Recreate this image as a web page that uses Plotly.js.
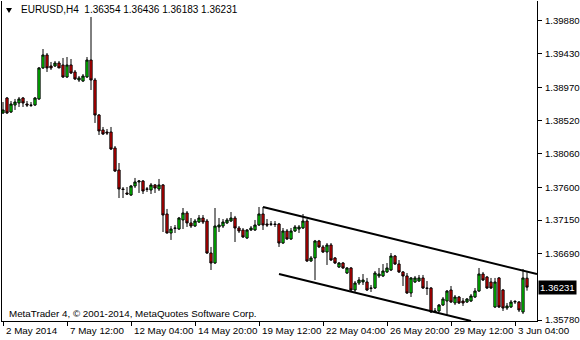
<!DOCTYPE html>
<html><head><meta charset="utf-8">
<script src="https://cdn.plot.ly/plotly-3.0.1.min.js"></script>
<style>html,body{margin:0;padding:0;background:#fff;}#chart{width:580px;height:340px;}</style>
</head><body><div id="chart"></div>
<script>
const symbolTitle = 'EURUSD,H4';
const lastOHLC = ['1.36354', '1.36436', '1.36183', '1.36231'];
const lastPrice = 1.36231;
const copyrightText = 'MetaTrader 4, \u00a9 2001-2014, MetaQuotes Software Corp.';

const openP = [1.38619,1.38824,1.38632,1.38728,1.38756,1.38824,1.38742,1.38728,1.38728,1.38811,
1.39236,1.39414,1.39263,1.39263,1.39304,1.39277,1.39112,1.39277,1.39181,1.39071,
1.39057,1.39112,1.39345,1.39071,1.38591,1.38386,1.38358,1.38358,1.38139,1.37837,
1.37577,1.37522,1.37494,1.37618,1.37673,1.37686,1.37577,1.37563,1.37632,1.37577,
1.37632,1.37234,1.36973,1.37042,1.37028,1.37152,1.37248,1.37111,1.37069,1.37124,
1.37179,1.37138,1.36699,1.36562,1.37056,1.37069,1.37111,1.37138,1.37179,1.37042,
1.37015,1.36905,1.37015,1.37015,1.37083,1.37234,1.37097,1.37097,1.37097,1.37097,
1.36836,1.37001,1.36891,1.37001,1.37028,1.37042,1.37138,1.36590,1.36631,1.36864,
1.36782,1.36713,1.36809,1.36631,1.36507,1.36562,1.36425,1.36494,1.36192,1.36288,
1.36302,1.36302,1.36219,1.36219,1.36384,1.36384,1.36439,1.36466,1.36658,1.36548,
1.36439,1.36384,1.36151,1.36302,1.36315,1.36357,1.36219,1.36219,1.35890,1.35904,
1.35986,1.36041,1.36192,1.36014,1.36096,1.36041,1.36027,1.36041,1.36096,1.36178,
1.36411,1.36370,1.36302,1.35959,1.36357,1.36192,1.35945,1.35959,1.36027,1.36027,
1.35890,1.36354];

const highP = [1.38769,1.38838,1.38783,1.38811,1.38838,1.38838,1.38783,1.38769,1.38838,1.39249,
1.39496,1.39441,1.39318,1.39332,1.39332,1.39373,1.39386,1.39359,1.39208,1.39126,
1.39153,1.39386,1.39935,1.39099,1.38605,1.38427,1.38399,1.38427,1.38166,1.37933,
1.37604,1.37604,1.37632,1.37728,1.37700,1.37700,1.37604,1.37659,1.37645,1.37714,
1.37645,1.37303,1.37069,1.37083,1.37193,1.37316,1.37275,1.37179,1.37165,1.37220,
1.37220,1.37165,1.36782,1.37316,1.37179,1.37165,1.37179,1.37261,1.37207,1.37069,
1.37042,1.37028,1.37069,1.37152,1.37330,1.37330,1.37165,1.37138,1.37138,1.37111,
1.37042,1.37028,1.37042,1.37083,1.37083,1.37234,1.37165,1.36658,1.36878,1.36878,
1.36809,1.36836,1.36836,1.36644,1.36576,1.36576,1.36507,1.36507,1.36315,1.36370,
1.36411,1.36357,1.36261,1.36452,1.36494,1.36548,1.36562,1.36699,1.36672,1.36603,
1.36452,1.36425,1.36370,1.36384,1.36398,1.36398,1.36315,1.36233,1.35945,1.36000,
1.36096,1.36192,1.36247,1.36123,1.36110,1.36082,1.36082,1.36137,1.36219,1.36494,
1.36439,1.36384,1.36357,1.36357,1.36370,1.36206,1.36014,1.36055,1.36055,1.36041,
1.36480,1.36436];

const lowP = [1.38605,1.38605,1.38619,1.38660,1.38701,1.38701,1.38701,1.38701,1.38715,1.38797,
1.39222,1.39181,1.39208,1.39249,1.39236,1.39099,1.39099,1.39153,1.39071,1.39044,
1.39044,1.39099,1.38934,1.38482,1.38317,1.38317,1.38317,1.38111,1.37810,1.37453,
1.37453,1.37494,1.37481,1.37590,1.37522,1.37508,1.37536,1.37508,1.37522,1.37549,
1.36987,1.36966,1.36878,1.36973,1.37015,1.37028,1.37056,1.37042,1.37056,1.37111,
1.37097,1.36686,1.36466,1.36548,1.36987,1.37042,1.37097,1.37124,1.36850,1.36973,
1.36905,1.36891,1.37001,1.37001,1.37069,1.37015,1.37056,1.37069,1.37056,1.36782,
1.36823,1.36878,1.36878,1.36987,1.36973,1.37028,1.36576,1.36576,1.36329,1.36768,
1.36699,1.36535,1.36590,1.36548,1.36494,1.36480,1.36411,1.36178,1.36165,1.36261,
1.36261,1.36178,1.36165,1.36206,1.36357,1.36370,1.36425,1.36452,1.36535,1.36425,
1.36247,1.36137,1.36096,1.36288,1.36302,1.36206,1.36123,1.35877,1.35877,1.35890,
1.35973,1.35849,1.36014,1.35986,1.36000,1.35973,1.36014,1.36027,1.36082,1.36165,
1.36315,1.36206,1.36206,1.35945,1.35945,1.35904,1.35918,1.35945,1.36000,1.35890,
1.35863,1.36183];

const closeP = [1.38660,1.38619,1.38742,1.38769,1.38811,1.38756,1.38728,1.38724,1.38824,1.39236,
1.39414,1.39236,1.39236,1.39304,1.39236,1.39112,1.39277,1.39167,1.39085,1.39099,
1.39126,1.39345,1.39071,1.38591,1.38372,1.38331,1.38344,1.38125,1.37823,1.37577,
1.37570,1.37508,1.37618,1.37673,1.37686,1.37549,1.37574,1.37632,1.37590,1.37632,
1.37220,1.36973,1.37028,1.37038,1.37179,1.37248,1.37111,1.37069,1.37138,1.37179,
1.37124,1.36699,1.36562,1.37069,1.37083,1.37124,1.37152,1.37179,1.37042,1.37001,
1.36919,1.37015,1.37042,1.37083,1.37234,1.37083,1.37083,1.37093,1.37090,1.36836,
1.37001,1.36891,1.37001,1.37056,1.37056,1.37138,1.36590,1.36631,1.36864,1.36782,
1.36713,1.36809,1.36603,1.36562,1.36562,1.36494,1.36494,1.36192,1.36288,1.36329,
1.36329,1.36192,1.36215,1.36425,1.36411,1.36452,1.36494,1.36658,1.36548,1.36439,
1.36384,1.36151,1.36357,1.36357,1.36357,1.36219,1.36215,1.35890,1.35904,1.35986,
1.36069,1.36178,1.36027,1.36096,1.36014,1.36014,1.36069,1.36110,1.36178,1.36411,
1.36329,1.36219,1.36219,1.36302,1.35959,1.35945,1.35973,1.36027,1.36034,1.35918,
1.36357,1.36231];

// x-axis tick labels (bar index of each label, H4 bars from 2 May 2014 20:00)
const xTickIdx = [0, 16, 32, 48, 64, 80, 96, 112, 128];
const xTickText = ['2 May 2014', '7 May 12:00', '12 May 04:00', '14 May 20:00', '19 May 12:00',
                   '22 May 04:00', '26 May 20:00', '29 May 12:00', '3 Jun 04:00'];
// price axis ticks
const yTickVals = [1.39880, 1.39430, 1.38970, 1.38520, 1.38060, 1.37600, 1.37150, 1.36690, 1.35780];

// trend channel lines (bar index, price)
const channelUpperX = [65, 133.5];
const channelUpperY = [1.37330, 1.36411];
const channelLowerX = [69, 117];
const channelLowerY = [1.36411, 1.35767];

const barIdx = closeP.map((_, i) => i);
const FONT = '"Liberation Sans", Arial, sans-serif';

const traces = [
  {
    type: 'candlestick', x: barIdx, open: openP, high: highP, low: lowP, close: closeP,
    increasing: {line: {color: '#000000', width: 1}, fillcolor: '#00f000'},
    decreasing: {line: {color: '#000000', width: 1}, fillcolor: '#ee0000'},
    whiskerwidth: 0, hoverinfo: 'skip', showlegend: false
  },
  {type: 'scatter', mode: 'lines', x: channelUpperX, y: channelUpperY,
   line: {color: '#000000', width: 2}, hoverinfo: 'skip', showlegend: false},
  {type: 'scatter', mode: 'lines', x: channelLowerX, y: channelLowerY,
   line: {color: '#000000', width: 2}, hoverinfo: 'skip', showlegend: false}
];

const annotations = [
  {xref: 'paper', yref: 'paper', x: 0.0318, y: 0.972, xanchor: 'left', yanchor: 'middle',
   text: symbolTitle + '\u00a0\u00a0' + lastOHLC.join(' '), showarrow: false,
   font: {family: FONT, size: 10, color: '#000'}},
  {xref: 'paper', yref: 'paper', x: 0.0093, y: 0.025, xanchor: 'left', yanchor: 'middle',
   text: copyrightText, showarrow: false, font: {family: FONT, size: 9.8, color: '#000'}},
  {xref: 'paper', yref: 'y', x: 1, y: lastPrice, xanchor: 'left', yanchor: 'middle', xshift: 1,
   text: lastPrice.toFixed(5), showarrow: false, bgcolor: '#000000', borderpad: 1,
   font: {family: FONT, size: 9.6, color: '#ffffff'}}
];
xTickIdx.forEach((xi, k) => {
  annotations.push({xref: 'x', yref: 'paper', x: xi, y: 0, xanchor: 'left', yanchor: 'top',
    xshift: 1, yshift: -2, text: xTickText[k], showarrow: false,
    font: {family: FONT, size: 9.8, color: '#000'}});
});

const layout = {
  width: 580, height: 340,
  margin: {l: 2, r: 43, t: 1, b: 19, pad: 0},
  paper_bgcolor: '#ffffff', plot_bgcolor: '#ffffff',
  showlegend: false, hovermode: false, boxgap: 0.2,
  font: {family: FONT, size: 10, color: '#000'},
  xaxis: {
    type: 'linear', range: [-0.25, 133.5], rangeslider: {visible: false},
    showgrid: false, zeroline: false, showline: true, linecolor: '#000', linewidth: 1,
    ticks: 'outside', ticklen: 4, tickcolor: '#000', tickvals: xTickIdx, showticklabels: false,
    fixedrange: true
  },
  yaxis: {
    side: 'right', range: [1.35767, 1.40154],
    showgrid: false, zeroline: false, showline: true, mirror: true, linecolor: '#000', linewidth: 1,
    ticks: 'outside', ticklen: 4, tickcolor: '#000', tickvals: yTickVals, tickformat: '.5f',
    tickfont: {family: FONT, size: 9.6, color: '#000'}, ticklabelstandoff: 1, fixedrange: true
  },
  shapes: [
    {type: 'path', xref: 'paper', yref: 'paper',
     path: 'M 0.0075 0.9781 L 0.0187 0.9781 L 0.0131 0.9625 Z',
     fillcolor: '#000', line: {width: 0}}
  ],
  annotations: annotations
};

Plotly.newPlot('chart', traces, layout, {displayModeBar: false, staticPlot: true});
</script>
</body></html>
